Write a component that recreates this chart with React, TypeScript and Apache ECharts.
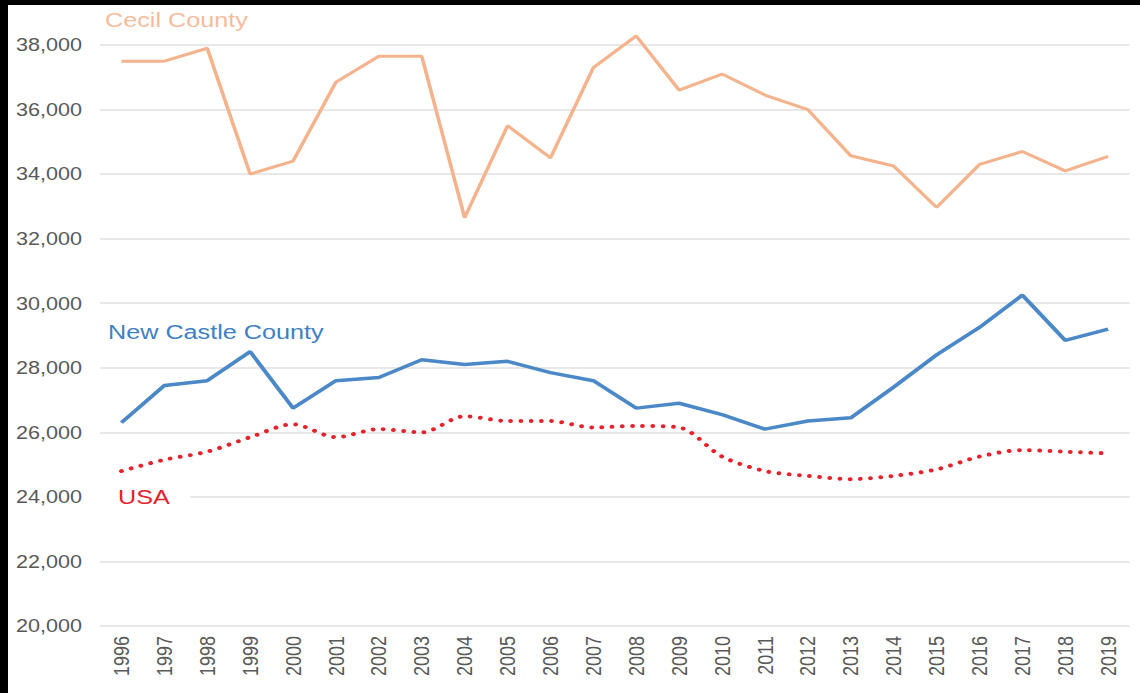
import React, { useEffect, useRef } from "react";
import * as echarts from "echarts";

const years = ["1996","1997","1998","1999","2000","2001","2002","2003","2004","2005","2006","2007","2008","2009","2010","2011","2012","2013","2014","2015","2016","2017","2018","2019"];
const cecil = [37500,37500,37900,34000,34400,36850,37650,37650,32650,35500,34500,37300,38280,36600,37100,36450,36000,34570,34250,32970,34300,34700,34100,34550];
const newCastle = [26300,27450,27600,28500,26750,27600,27700,28250,28100,28200,27850,27600,26750,26900,26550,26100,26350,26450,27400,28400,29250,30250,28850,29200];
const usa = [24800,25150,25400,25850,26250,25850,26100,26000,26500,26350,26350,26150,26200,26150,25250,24800,24650,24550,24650,24850,25250,25450,25400,25350];

const FONT = "'Liberation Sans', Arial, sans-serif";
const SX = 1.2;
const INNER_W = 1132;
const CHART_W = INNER_W / SX;

export default function App() {
  const ref = useRef<HTMLDivElement>(null);
  useEffect(() => {
    if (!ref.current) return;
    const chart = echarts.init(ref.current, undefined, { renderer: "svg" });
    chart.setOption({
      animation: false,
      backgroundColor: "#ffffff",
      grid: { left: 92 / SX, right: 10 / SX, top: 40, bottom: 67 },
      xAxis: {
        type: "category",
        data: years,
        boundaryGap: true,
        axisLine: { show: false },
        axisTick: { show: false },
        axisLabel: { rotate: 90, color: "#595959", fontSize: 18, fontFamily: FONT, margin: 10 },
      },
      yAxis: {
        type: "value",
        min: 20000,
        max: 38000,
        interval: 2000,
        axisLine: { show: false },
        axisTick: { show: false },
        axisLabel: {
          color: "#595959",
          fontSize: 18,
          fontFamily: FONT,
          margin: 15,
          formatter: (v: number) => v.toLocaleString("en-US"),
        },
        splitLine: { lineStyle: { color: "#e0e0e0", width: 1.5 } },
      },
      series: [
        {
          name: "Cecil County",
          type: "line",
          data: cecil,
          clip: false,
          symbol: "none",
          lineStyle: { color: "#f4b38c", width: 3 },
        },
        {
          name: "New Castle County",
          type: "line",
          data: newCastle,
          clip: false,
          symbol: "none",
          lineStyle: { color: "#4a88c8", width: 3.5 },
        },
        {
          name: "USA",
          type: "line",
          data: usa,
          clip: false,
          symbol: "none",
          smooth: 0.3,
          lineStyle: { color: "#e3222c", width: 4, type: [0.01, 8.5], cap: "round" },
        },
      ],
      graphic: [
        { type: "text", z: 10, left: (105 - 8) / SX, top: 4.5, style: { text: "Cecil County", fill: "#f5bc9c", font: `21px ${FONT}` } },
        { type: "text", z: 10, left: (108 - 8) / SX, top: 316.5, style: { text: "New Castle County", fill: "#3f80c2", font: `21px ${FONT}` } },
        { type: "rect", z: 9, shape: { x: (100 - 8) / SX, y: 482, width: (190 - 100) / SX, height: 26 }, style: { fill: "#ffffff" } },
        { type: "text", z: 10, left: (118 - 8) / SX, top: 481.5, style: { text: "USA", fill: "#e3222c", font: `21px ${FONT}` } },
      ],
    });
    return () => chart.dispose();
  }, []);
  return (
    <div style={{ position: "fixed", left: 0, top: 0, width: 1140, height: 693, background: "#000", overflow: "hidden" }}>
      <div style={{ position: "absolute", left: 8, top: 5, width: INNER_W, height: 688, background: "#fff" }}>
        <div
          ref={ref}
          style={{ position: "absolute", left: 0, top: 0, width: CHART_W, height: 688, transform: `scaleX(${SX})`, transformOrigin: "0 0" }}
        />
      </div>
    </div>
  );
}
